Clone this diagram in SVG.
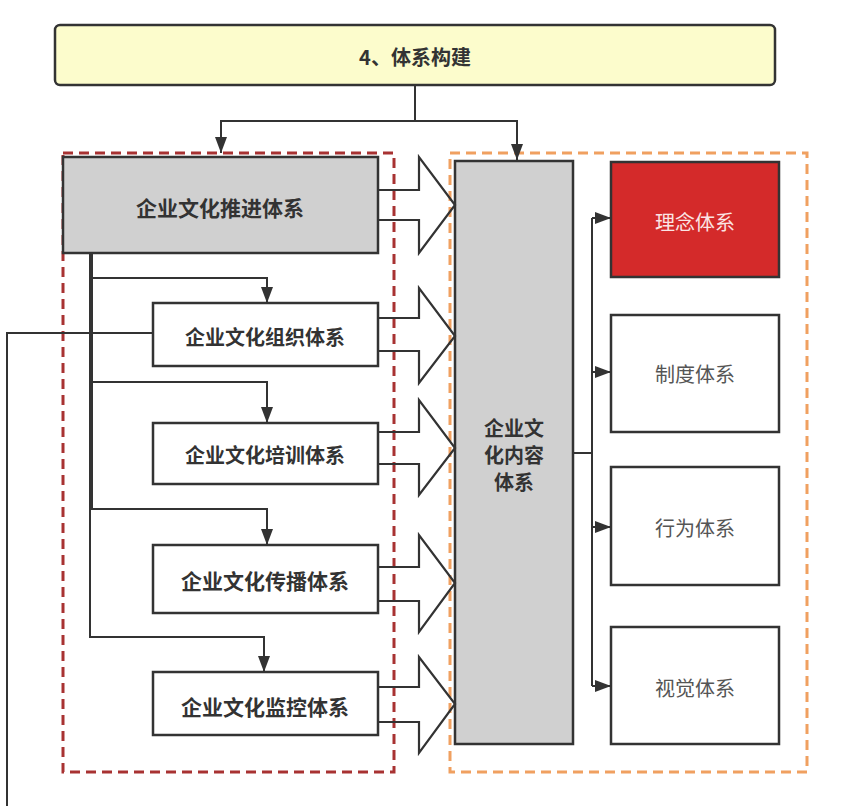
<svg xmlns="http://www.w3.org/2000/svg" width="867" height="806" viewBox="0 0 867 806">
<style>
text{font-family:"Noto Sans CJK SC","Liberation Sans",sans-serif;text-anchor:middle;dominant-baseline:central}
.b{font-weight:bold;fill:#333}
.n{fill:#555;font-size:20px}
.box{fill:#fff;stroke:#333;stroke-width:2.5}
.gray{fill:#d0d0d0;stroke:#333;stroke-width:2.5}
.ln{fill:none;stroke:#333;stroke-width:2}
.blk{fill:none;stroke:#333;stroke-width:2.2;stroke-linejoin:miter}
</style>
<defs>
<marker id="ah" viewBox="0 0 16 12" refX="16" refY="6" markerWidth="16" markerHeight="12" markerUnits="userSpaceOnUse" orient="auto">
<path d="M0,0 L16,6 L0,12 Z" fill="#333"/>
</marker>
</defs>
<g id="containers">
<rect x="63" y="153" width="331" height="619" fill="none" stroke="#a83232" stroke-width="3" stroke-dasharray="10,6"/>
<rect x="450" y="153" width="357" height="619" fill="none" stroke="#f0a060" stroke-width="3" stroke-dasharray="10,6"/>
</g>
<g id="n_top">
<rect x="55" y="25" width="720" height="60" rx="5" fill="#fcfccc" stroke="#333" stroke-width="2.5"/>
<text x="415" y="56" class="b" font-size="20">4、体系构建</text>
</g>
<g id="n_tuijin">
<rect x="63" y="157" width="315" height="96" class="gray"/>
<text x="220" y="207" class="b" font-size="21">企业文化推进体系</text>
</g>
<g id="n_zuzhi">
<rect x="153" y="303" width="225" height="63" class="box"/>
<text x="265" y="336" class="b" font-size="20">企业文化组织体系</text>
</g>
<g id="n_peixun">
<rect x="153" y="423" width="225" height="61" class="box"/>
<text x="265" y="454" class="b" font-size="20">企业文化培训体系</text>
</g>
<g id="n_chuanbo">
<rect x="153" y="545" width="225" height="68" class="box"/>
<text x="265" y="580" class="b" font-size="21">企业文化传播体系</text>
</g>
<g id="n_jiankong">
<rect x="153" y="672" width="225" height="63" class="box"/>
<text x="265" y="706" class="b" font-size="21">企业文化监控体系</text>
</g>
<g id="n_neirong">
<rect x="455" y="161" width="118" height="583" class="gray"/>
<text x="514" y="427" class="b" font-size="20">企业文</text>
<text x="514" y="454" class="b" font-size="20">化内容</text>
<text x="514" y="481" class="b" font-size="20">体系</text>
</g>
<g id="n_linian">
<rect x="611" y="162" width="168" height="115" fill="#d42a2a" stroke="#333" stroke-width="2.5"/>
<text x="695" y="221" font-size="20" fill="#fbe4e4">理念体系</text>
</g>
<g id="n_zhidu">
<rect x="611" y="315" width="168" height="117" class="box"/>
<text x="695" y="373" class="n">制度体系</text>
</g>
<g id="n_xingwei">
<rect x="611" y="467" width="168" height="118" class="box"/>
<text x="695" y="527" class="n">行为体系</text>
</g>
<g id="n_shijue">
<rect x="611" y="627" width="168" height="117" class="box"/>
<text x="695" y="687" class="n">视觉体系</text>
</g>
<g id="connectors">
<path class="ln" d="M415,85 V121 H221 V153" marker-end="url(#ah)"/>
<path class="ln" d="M415,121 H517 V160" marker-end="url(#ah)"/>
<path class="ln" d="M90,253 V278 H267 V303" marker-end="url(#ah)"/>
<path class="ln" d="M90,253 V382 H267 V423" marker-end="url(#ah)"/>
<path class="ln" d="M90,253 V509 H267 V545" marker-end="url(#ah)"/>
<path class="ln" d="M90,253 V637 H264 V672" marker-end="url(#ah)"/>
<path d="M92,253 V509" fill="none" stroke="#333" stroke-width="2"/>
<path class="ln" d="M153,333 H7 V806" stroke-width="1.8"/>
<path class="ln" d="M573,453 H592"/>
<path class="ln" d="M592,218 V686"/>
<path class="ln" d="M592,218 H611" marker-end="url(#ah)"/>
<path class="ln" d="M592,372 H611" marker-end="url(#ah)"/>
<path class="ln" d="M592,527 H611" marker-end="url(#ah)"/>
<path class="ln" d="M592,686 H611" marker-end="url(#ah)"/>
<path class="blk" d="M378,190 H419 V157 L455,205 L419,253 V220 H378"/>
<path class="blk" d="M378,318 H419 V288 L455,336 L419,383 V351 H378"/>
<path class="blk" d="M378,432 H419 V400 L455,448 L419,495 V464 H378"/>
<path class="blk" d="M378,567 H419 V535 L455,583 L419,632 V601 H378"/>
<path class="blk" d="M378,687 H419 V657 L455,704 L419,753 V722 H378"/>
</g>
</svg>
